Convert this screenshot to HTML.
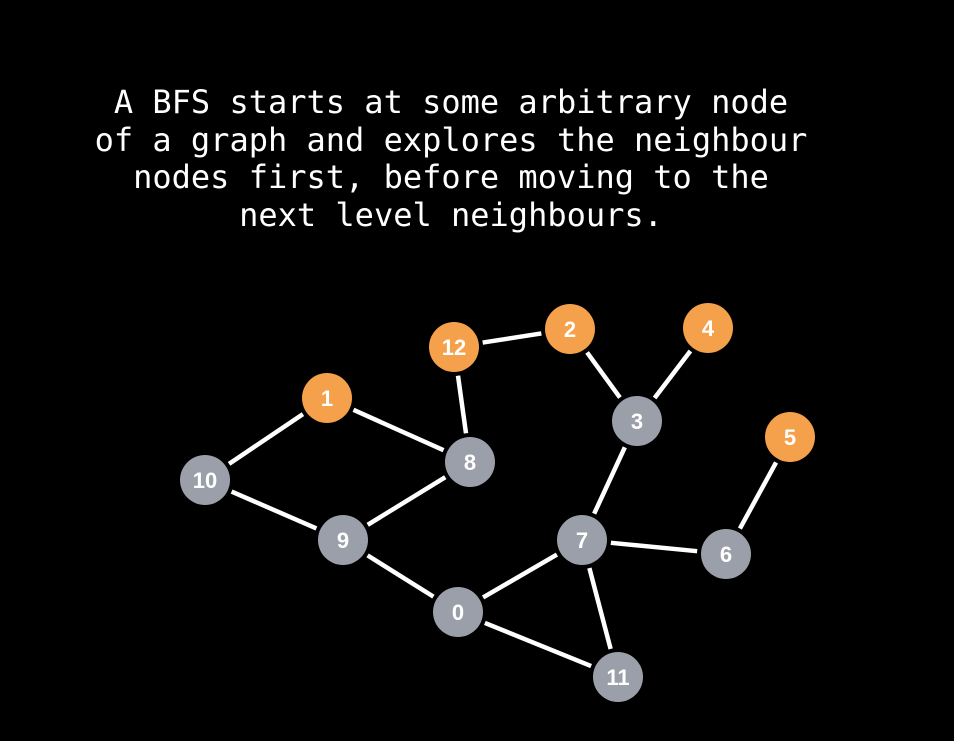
<!DOCTYPE html>
<html><head><meta charset="utf-8"><style>
html,body{margin:0;padding:0;background:#000;width:954px;height:741px;overflow:hidden}
#t{position:absolute;left:0;width:902px;top:84px;text-align:center;color:#fff;font-family:"DejaVu Sans Mono","Liberation Mono",monospace;font-size:32px;line-height:37.5px;white-space:pre}
svg{position:absolute;left:0;top:0}
</style></head><body>
<div id="t">A BFS starts at some arbitrary node
of a graph and explores the neighbour
nodes first, before moving to the
next level neighbours.</div>
<svg id="g" width="954" height="741"></svg>
<script>
const nodeIds=[12,2,4,1,3,5,8,10,9,7,6,0,11];
const nodeX=[454,570,708,327,637,790,470,205,343,582,726,458,618];
const nodeY=[347,329,328,398,421,437,462,480,540,540,554,612,677];
const visited=[12,2,4,1,5];
const edges=[[12,2],[12,8],[2,3],[4,3],[1,10],[1,8],[10,9],[8,9],[9,0],[3,7],[7,6],[6,5],[7,0],[7,11],[0,11]];
const R=25,NS="http://www.w3.org/2000/svg",svg=document.getElementById('g');
function pos(id){const i=nodeIds.indexOf(id);return [nodeX[i],nodeY[i]];}
edges.forEach(([a,b])=>{
 const [x1,y1]=pos(a),[x2,y2]=pos(b);const d=Math.hypot(x2-x1,y2-y1),g=R+4;
 const ux=(x2-x1)/d,uy=(y2-y1)/d;
 const l=document.createElementNS(NS,'line');
 l.setAttribute('x1',x1+ux*g);l.setAttribute('y1',y1+uy*g);l.setAttribute('x2',x2-ux*g);l.setAttribute('y2',y2-uy*g);
 l.setAttribute('stroke','#fff');l.setAttribute('stroke-width','4.5');
 
 
 svg.appendChild(l);
});
nodeIds.forEach(id=>{
 const [x,y]=pos(id);
 const gg=document.createElementNS(NS,'g');
 
 
 const c=document.createElementNS(NS,'circle');
 c.setAttribute('cx',x);c.setAttribute('cy',y);c.setAttribute('r',R);
 c.setAttribute('fill',visited.includes(id)?'#f5a04a':'#9b9fa9');
 const t=document.createElementNS(NS,'text');
 t.setAttribute('x',x);t.setAttribute('y',y+8);t.setAttribute('text-anchor','middle');
 t.setAttribute('fill','#fff');t.setAttribute('font-family','Liberation Sans, sans-serif');
 t.setAttribute('font-weight','bold');t.setAttribute('font-size','22');t.textContent=id;
 gg.appendChild(c);gg.appendChild(t);svg.appendChild(gg);
});
</script>
</body></html>
